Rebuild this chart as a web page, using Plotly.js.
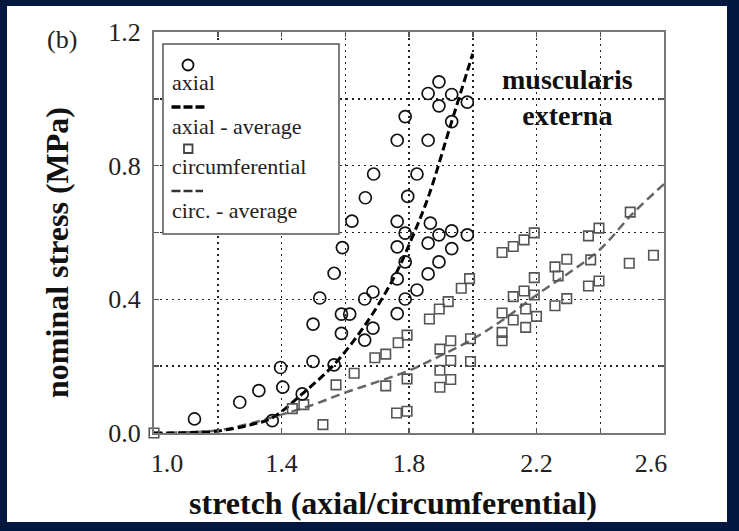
<!DOCTYPE html>
<html><head><meta charset="utf-8">
<script src="https://cdn.plot.ly/plotly-3.0.1.min.js"></script>
<style>
html,body{margin:0;padding:0;background:#04173f;width:739px;height:531px;overflow:hidden}
#plot{position:absolute;left:7px;top:6px;width:720px;height:516px;background:#fff}
</style></head><body><div id="plot"></div>
<script>
// ---- data ----
const axialX = [1.127,1.269,1.329,1.371,1.397,1.404,1.465,1.499,1.565,1.499,1.520,1.565,1.591,1.588,1.614,1.588,1.621,1.663,1.689,1.661,1.687,1.661,1.687,1.763,1.788,1.763,1.788,1.763,1.788,1.763,1.788,1.763,1.796,1.825,1.825,1.860,1.860,1.894,1.894,1.934,1.983,1.934,1.867,1.860,1.894,1.934,1.983,1.934,1.894,1.860];
const axialY = [0.042,0.092,0.127,0.037,0.196,0.137,0.117,0.214,0.204,0.326,0.404,0.478,0.555,0.356,0.356,0.298,0.634,0.704,0.775,0.278,0.314,0.401,0.422,0.876,0.947,0.633,0.598,0.557,0.512,0.461,0.401,0.357,0.708,0.775,0.428,0.876,1.016,1.051,0.979,1.013,0.990,0.932,0.628,0.568,0.593,0.605,0.593,0.552,0.512,0.476];

const circX = [1.0,1.434,1.470,1.530,1.571,1.628,1.693,1.727,1.727,1.766,1.794,1.794,1.761,1.794,1.864,1.895,1.923,1.964,1.990,1.897,1.897,1.897,1.931,1.931,1.931,1.993,1.993,2.092,2.127,2.161,2.193,2.092,2.127,2.161,2.193,2.092,2.092,2.127,2.166,2.166,2.200,2.193,2.258,2.295,2.268,2.258,2.295,2.363,2.396,2.370,2.363,2.396,2.494,2.491,2.567];
const circY = [0.0,0.073,0.085,0.025,0.144,0.179,0.225,0.236,0.141,0.270,0.293,0.162,0.060,0.065,0.341,0.371,0.393,0.433,0.462,0.251,0.188,0.137,0.276,0.217,0.160,0.282,0.214,0.540,0.558,0.578,0.599,0.359,0.408,0.425,0.465,0.301,0.276,0.338,0.371,0.316,0.349,0.413,0.497,0.520,0.470,0.381,0.402,0.590,0.613,0.518,0.440,0.455,0.661,0.508,0.532];

const axialAvgX = [1.0,1.1,1.2,1.3,1.37,1.465,1.565,1.66,1.75,1.81,1.86,1.93,2.0];
const axialAvgY = [0.0,0.001,0.006,0.024,0.045,0.117,0.205,0.32,0.46,0.585,0.705,0.92,1.135];

const circAvgX = [1.0,1.1,1.2,1.3,1.4,1.5,1.6,1.7,1.8,1.9,2.0,2.1,2.2,2.3,2.4,2.5,2.6];
const circAvgY = [0.0,0.002,0.008,0.028,0.055,0.085,0.121,0.153,0.187,0.232,0.281,0.342,0.413,0.478,0.55,0.655,0.745];

const NB = '\u00a0';
const xTickVals = [1.0,1.2,1.4,1.6,1.8,2.0,2.2,2.4,2.6];
const xTickText = [NB.repeat(4)+'1.0','','1.4','','1.8','','2.2','','2.6'+NB.repeat(4)];
const yTickVals = [0,0.2,0.4,0.6,0.8,1.0,1.2];
const yTickText = ['0.0','','0.4','','0.8','','1.2'];

const legendLabels = ['axial','axial - average','circumferential','circ. - average'];
const panelLabel = '(b)';
const insetLabel = '<b>muscularis<br>externa</b>';
const xTitle = '<b>stretch (axial/circumferential)' + NB.repeat(4) + '</b>';
const yTitle = '<b>nominal stress (MPa)' + NB.repeat(5) + '</b>';

// ---- layout helpers (page pixel -> paper fraction) ----
const W = 720, H = 516, OX = 7, OY = 6;
const M = {l:147, r:63, t:26, b:89};
const PW = W - M.l - M.r, PH = H - M.t - M.b;
const fx = px => (px - OX - M.l) / PW;
const fy = py => 1 - (py - OY - M.t) / PH;

const SERIF = '"Liberation Serif", "Times New Roman", serif';
const GRID = {gridcolor:'#222', griddash:'2px,4px', gridwidth:1.5};

const traces = [
  {x: circAvgX, y: circAvgY, mode:'lines', name: legendLabels[3], line:{color:'#666', width:2.5, dash:'9px,5px', shape:'spline'}, hoverinfo:'skip'},
  {x: axialAvgX, y: axialAvgY, mode:'lines', name: legendLabels[1], line:{color:'#000', width:3, dash:'8px,4px', shape:'spline'}, hoverinfo:'skip'},
  {x: circX, y: circY, mode:'markers', name: legendLabels[2], cliponaxis:false,
   marker:{symbol:'square-open', size:9.5, color:'#555', line:{width:1.6}}},
  {x: axialX, y: axialY, mode:'markers', name: legendLabels[0], cliponaxis:false,
   marker:{symbol:'circle-open', size:12, color:'#111', line:{width:1.7}}}
];

const shapes = [
  {type:'rect', xref:'paper', yref:'paper', x0:fx(163), x1:fx(339), y0:fy(234), y1:fy(44),
   line:{color:'#555', width:1.5}, fillcolor:'#fff', layer:'above'},
  {type:'circle', xref:'paper', yref:'paper', x0:fx(182.5), x1:fx(193.5), y0:fy(70.5), y1:fy(59.5),
   line:{color:'#111', width:1.8}, layer:'above'},
  {type:'line', xref:'paper', yref:'paper', x0:fx(171.5), x1:fx(205), y0:fy(107), y1:fy(107),
   line:{color:'#000', width:3.5, dash:'9px,3px'}, layer:'above'},
  {type:'rect', xref:'paper', yref:'paper', x0:fx(184), x1:fx(192.5), y0:fy(153), y1:fy(144.5),
   line:{color:'#444', width:1.8}, layer:'above'},
  {type:'line', xref:'paper', yref:'paper', x0:fx(171.5), x1:fx(203), y0:fy(191), y1:fy(191),
   line:{color:'#333', width:2.5, dash:'9px,3px'}, layer:'above'}
];

const legendRows = [82.7, 126.5, 166.5, 210.7];
const annotations = legendLabels.map((t,i) => ({
  text:t, xref:'paper', yref:'paper', x:fx(170), y:fy(legendRows[i]), xanchor:'left', yanchor:'middle',
  showarrow:false, font:{family:SERIF, size:22, color:'#222'}
}));
annotations.push({text:panelLabel, xref:'paper', yref:'paper', x:fx(62), y:fy(40), xanchor:'center', yanchor:'middle',
  showarrow:false, font:{family:SERIF, size:26, color:'#222'}});
annotations.push({text:insetLabel, xref:'paper', yref:'paper', x:fx(567.5), y:fy(98), xanchor:'center', yanchor:'middle',
  showarrow:false, font:{family:SERIF, size:28, color:'#111'}});

const layout = {
  width:W, height:H, margin:M, showlegend:false,
  paper_bgcolor:'#fff', plot_bgcolor:'#fff',
  font:{family:SERIF, color:'#222'},
  xaxis: Object.assign({
    range:[1.0,2.6], tickmode:'array', tickvals:xTickVals, ticktext:xTickText,
    ticks:'inside', ticklen:5, tickwidth:1.5, tickcolor:'#555',
    showline:true, linecolor:'#777', linewidth:2, mirror:'ticks', zeroline:false, showgrid:true,
    tickfont:{family:SERIF, size:26, color:'#222'}, ticklabelstandoff:6,
    title:{text:xTitle, font:{family:SERIF, size:32, color:'#111'}, standoff:14}
  }, GRID),
  yaxis: Object.assign({
    range:[0,1.2], tickmode:'array', tickvals:yTickVals, ticktext:yTickText,
    ticks:'inside', ticklen:5, tickwidth:1.5, tickcolor:'#555',
    showline:true, linecolor:'#777', linewidth:2, mirror:'ticks', zeroline:false, showgrid:true,
    tickfont:{family:SERIF, size:26, color:'#222'}, ticklabelstandoff:6,
    title:{text:yTitle, font:{family:SERIF, size:32, color:'#111'}, standoff:30}
  }, GRID),
  shapes: shapes,
  annotations: annotations
};

Plotly.newPlot('plot', traces, layout, {displayModeBar:false, staticPlot:true});
</script></body></html>
